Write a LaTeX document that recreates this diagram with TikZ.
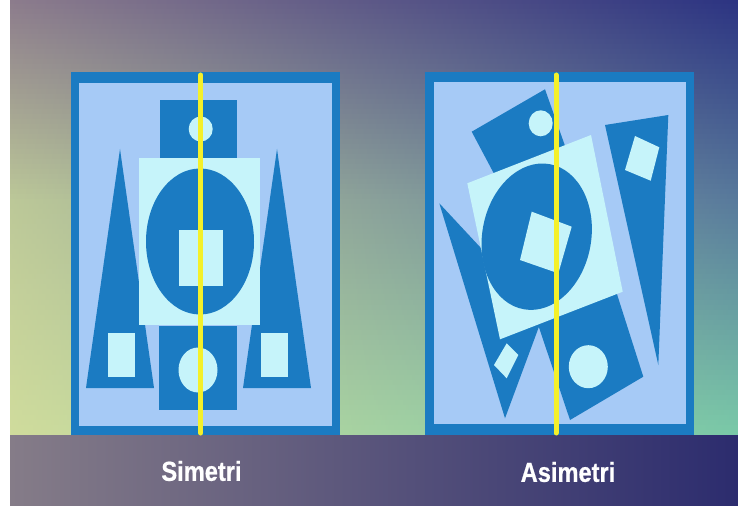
\documentclass[tikz,border=0pt]{standalone}
\usepackage{fontspec}
\newfontfamily\lblfont[FakeStretch=0.86, BoldFeatures={FakeBold=0.6}]{Liberation Sans}
\definecolor{frameblue}{HTML}{1B7BC2}
\definecolor{lightbg}{HTML}{A6CAF6}
\definecolor{paleshape}{HTML}{C6F4FA}
\definecolor{yel}{HTML}{F4F02A}
% background control colours: row a (y=0), row b (y=200), row c (y=435)
\definecolor{aL}{HTML}{8C7C8C}
\definecolor{aM}{HTML}{6E7082}
\definecolor{aR}{HTML}{2C3482}
\definecolor{bL}{HTML}{BCC898}
\definecolor{bM}{HTML}{A8BA96}
\definecolor{bR}{HTML}{587A9C}
\definecolor{cL}{HTML}{D0DC9C}
\definecolor{cM}{HTML}{DAEAA2}
\definecolor{cR}{HTML}{7ACAA8}
\definecolor{bandL}{HTML}{857C88}
\definecolor{bandM}{HTML}{6B6E7C}
\definecolor{bandR}{HTML}{2C2C6E}
\tikzset{
  darkshape/.style={fill=frameblue},
  paleshp/.style={fill=paleshape},
  axisline/.style={draw=yel, line width=5pt, line cap=round},
  lbl/.style={text=white, font=\lblfont\bfseries\fontsize{27.5}{30}\selectfont, inner sep=0pt}
}
\begin{document}
\begin{tikzpicture}[x=1pt,y=-1pt]
\useasboundingbox (0,0) rectangle (738,510);
\fill[white] (0,0) rectangle (738,510);
% background rows (upper part)
\foreach \i in {0,...,39}{
  \pgfmathsetmacro\p{100-\i*2.5}
  \pgfmathsetmacro\ya{\i*5}
  \pgfmathsetmacro\yb{\i*5+5.8}
  \colorlet{rowL}{aL!\p!bL}
  \colorlet{rowM}{aM!\p!bM}
  \colorlet{rowR}{aR!\p!bR}
  \fill[left color=rowL, middle color=rowM, right color=rowR] (10,\ya) rectangle (738,\yb);
}
% background rows (lower part)
\foreach \i in {0,...,46}{
  \pgfmathsetmacro\p{100-\i*100/47}
  \pgfmathsetmacro\ya{200+\i*5}
  \pgfmathsetmacro\yb{min(200+\i*5+5.8,435)}
  \colorlet{rowL}{bL!\p!cL}
  \colorlet{rowM}{bM!\p!cM}
  \colorlet{rowR}{bR!\p!cR}
  \fill[left color=rowL, middle color=rowM, right color=rowR] (10,\ya) rectangle (738,\yb);
}
\fill[left color=bandL, middle color=bandM, right color=bandR] (10,435) rectangle (738,505);

% ===== Left frame (Simetri)
\fill[frameblue] (71,72) rectangle (340,435);
\fill[lightbg] (79,83) rectangle (332,426);
\fill[darkshape] (160,100) rectangle (237,158);
\fill[darkshape] (120,149) -- (86,388) -- (154,388) -- cycle;
\fill[darkshape] (277,149) -- (243,388) -- (311,388) -- cycle;
\fill[darkshape] (159,326) rectangle (237,410);
\fill[paleshp] (139,158) rectangle (260,325);
\fill[darkshape] (200,241.5) ellipse [x radius=54pt, y radius=73pt];
\fill[paleshp] (179,230) rectangle (223,286);
\fill[paleshp] (200.7,129) ellipse [x radius=12pt, y radius=12.5pt];
\fill[paleshp] (198,370) ellipse [x radius=19.5pt, y radius=22.5pt];
\fill[paleshp] (108,333) rectangle (135,377);
\fill[paleshp] (261,333) rectangle (288,377);
\draw[axisline] (200.7,75) -- (200.7,433);

% ===== Right frame (Asimetri)
\fill[frameblue] (425,72) rectangle (694,435);
\fill[lightbg] (434,82) rectangle (686,424);
\fill[darkshape] (471.7,131.7) -- (545,89.3) -- (570,160) -- (500,185) -- cycle;
\fill[darkshape] (439.3,203.3) -- (505,418.3) -- (543.3,315) -- cycle;
\fill[darkshape] (529.2,298.1) -- (607.6,264.7) -- (643.3,376.7) -- (570,420) -- cycle;
\fill[darkshape] (605,125) -- (668.3,115) -- (658.3,365) -- cycle;
\fill[paleshp] (467.3,183.3) -- (591,135) -- (622.7,291.7) -- (500,339.3) -- cycle;
\fill[darkshape, rotate around={-10:(536.7,236.7)}] (536.7,236.7) ellipse [x radius=54.5pt, y radius=73.7pt];
\fill[paleshp] (531.7,211.7) -- (571.7,226.7) -- (558.3,273.3) -- (520,260) -- cycle;
\fill[paleshp] (540.7,123.3) ellipse [x radius=12pt, y radius=13pt];
\fill[paleshp] (588.3,366.7) ellipse [x radius=19.5pt, y radius=21.5pt];
\fill[paleshp] (494,365) -- (506.7,343.3) -- (518.3,355) -- (506.7,378.3) -- cycle;
\fill[paleshp] (635,136) -- (659.3,147.3) -- (650.7,180.7) -- (625,170) -- cycle;
\draw[axisline] (556,75) -- (556,433);

% labels
\node[lbl] (simetri) at (201.5,471) {Simetri};
\node[lbl] (asimetri) at (568,472) {Asimetri};
\end{tikzpicture}
\end{document}
